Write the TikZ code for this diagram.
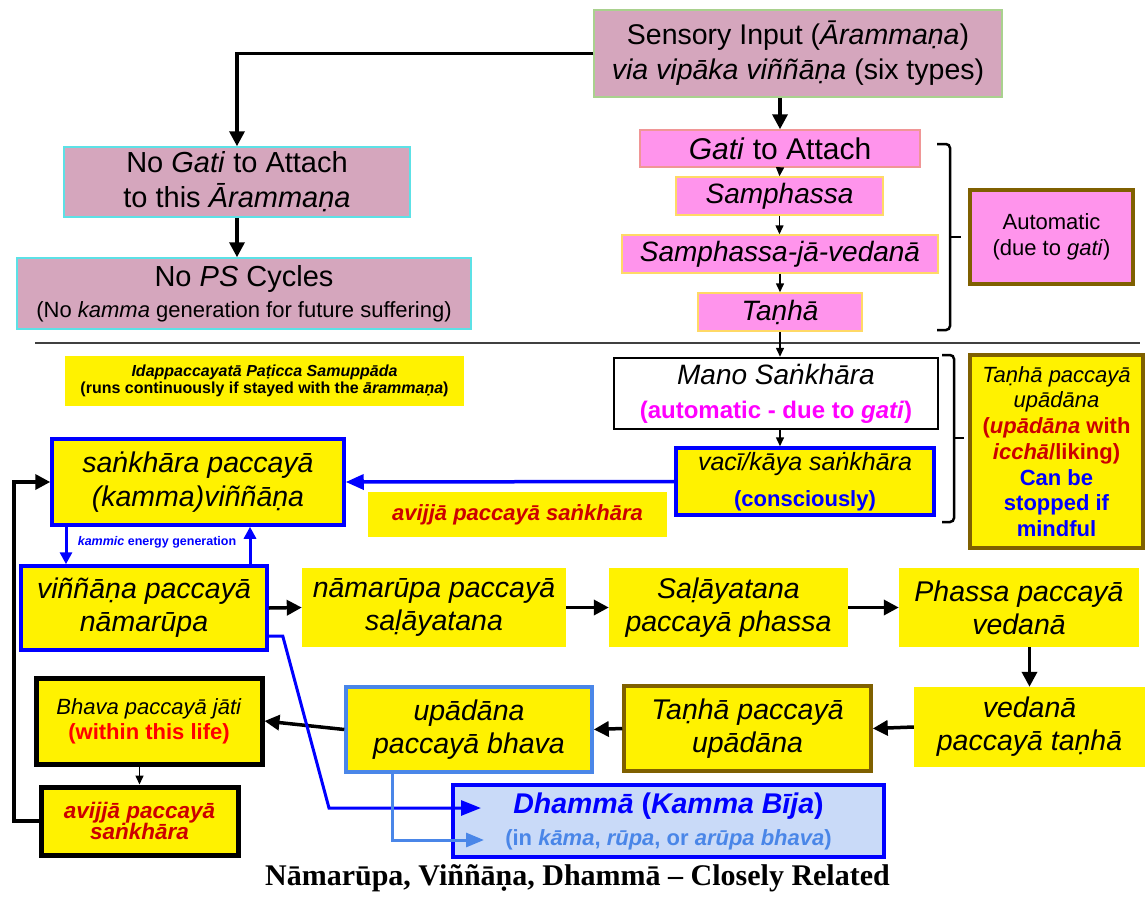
\documentclass[tikz,border=0pt]{standalone}
\usepackage{fontspec}
\setmainfont{Liberation Sans}
\newfontfamily\capfont{Liberation Serif}
\usepackage{tikz}
\usetikzlibrary{arrows.meta, positioning, calc}
\usepackage{xcolor}
\definecolor{mauve}{RGB}{213,166,189}
\definecolor{leafgreen}{RGB}{169,209,142}
\definecolor{aqua}{RGB}{92,225,230}
\definecolor{pinkfill}{RGB}{255,148,236}
\definecolor{salmon}{RGB}{240,150,150}
\definecolor{paleorange}{RGB}{255,217,102}
\definecolor{brownish}{RGB}{127,96,0}
\definecolor{skyblue}{RGB}{74,134,232}
\definecolor{paleblue}{RGB}{201,218,248}
\definecolor{darkred}{RGB}{204,0,0}
\definecolor{pureblue}{RGB}{0,0,255}
\definecolor{hotpink}{RGB}{255,0,255}
\newcommand{\fsz}[2]{\fontsize{#1}{#2}\selectfont}

\begin{document}
\begin{tikzpicture}[x=1pt, y=-1pt,
    every node/.style={align=center, inner sep=0pt},
    mauvebox/.style={fill=mauve, line width=1.5pt},
    pinkbox/.style={fill=pinkfill, line width=1.5pt},
    ybox/.style={fill=yellow},
    bluebox/.style={fill=yellow, draw=pureblue, line width=3.5pt},
    paliline/.style={font=\itshape\fsz{28.5}{33}},
    arr/.style={line width=3.5pt, -{Triangle[length=15pt,width=15pt]}},
    thinarr/.style={line width=1.5pt, -{Triangle[length=9pt,width=8pt]}},
    bluearr/.style={pureblue, line width=3.5pt, -{Triangle[length=18pt,width=15pt]}},
    brc/.style={line width=2.5pt, rounded corners=4pt}]
  \useasboundingbox[fill=white] (0,0) rectangle (1146,897);

  \node[mauvebox, draw=leafgreen, minimum width=408pt, minimum height=87pt, font=\fsz{28.5}{35}] (sense) at (798,53.5)
    {Sensory Input (\textit{Ārammaṇa})\\\textit{via vipāka viññāṇa} (six types)};
  \node[mauvebox, draw=aqua, minimum width=346pt, minimum height=70pt, font=\fsz{29}{35}] (nogati) at (237,182)
    {No \textit{Gati} to Attach\\to this \textit{Ārammaṇa}};
  \node[mauvebox, draw=aqua, minimum width=454pt, minimum height=71pt, font=\fsz{22}{31}] (nops) at (244,293.5)
    {{\fsz{29}{31}No \textit{PS} Cycles}\\(No \textit{kamma} generation for future suffering)};

  \node[pinkbox, draw=salmon, minimum width=280pt, minimum height=37pt, font=\fsz{30}{34}] (gati) at (780,148.5) {\textit{Gati} to Attach};
  \node[pinkbox, draw=paleorange, minimum width=207pt, minimum height=38pt, font=\itshape\fsz{28}{32}] (samph) at (779.5,196) {Samphassa};
  \node[pinkbox, draw=paleorange, minimum width=316pt, minimum height=38pt, font=\itshape\fsz{28}{32}] (sjv) at (780,254) {Samphassa-jā-vedanā};
  \node[pinkbox, draw=paleorange, minimum width=164pt, minimum height=38pt, font=\itshape\fsz{28}{32}] (tanha) at (780,312) {Taṇhā};
  \node[fill=pinkfill, draw=brownish, line width=4pt, minimum width=163pt, minimum height=94pt, font=\fsz{22}{26}] (auto) at (1051.5,237)
    {Automatic\\(due to \textit{gati})};
  \draw[brc] (937,144) -- (950,144) -- (950,330) -- (937,330);
  \draw[line width=2.5pt] (950,237) -- (961,237);

  \draw[line width=1.5pt, black!75] (35,343) -- (1140,343);

  \node[fill=white, draw=black, line width=2.5pt, minimum width=324pt, minimum height=71pt, font=\fsz{28}{34}] (mano) at (776,393.5)
    {\textit{Mano Saṅkhāra}\\{\bfseries\color{hotpink}\fsz{24}{34}(automatic - due to \textit{gati})}};
  \node[bluebox, minimum width=258pt, minimum height=67pt, font=\fsz{25}{36}] (vaci) at (805,481.5)
    {\textit{vacī/kāya saṅkhāra}\\{\bfseries\color{pureblue}\fsz{22}{36}(consciously)}};
  \draw[brc] (942,355) -- (954,355) -- (954,522) -- (942,522);
  \draw[line width=2.5pt] (954,438) -- (964,438);
  \node[fill=yellow, draw=brownish, line width=3.5pt, minimum width=173pt, minimum height=193pt, font=\fsz{22}{25.7}] (tpu) at (1056.5,451.5)
    {\textit{Taṇhā paccayā}\\\textit{upādāna}\\{\bfseries\color{darkred}(\textit{upādāna} with}\\{\bfseries\color{darkred}\textit{icchā}/liking)}\\
     {\bfseries\color{pureblue}Can be}\\{\bfseries\color{pureblue}stopped if}\\{\bfseries\color{pureblue}mindful}};

  \node[ybox, minimum width=399pt, minimum height=50pt, font=\bfseries\fsz{16}{17}] (idapp) at (264.5,381)
    {\textit{Idappaccayatā Paṭicca Samuppāda}\\(runs continuously if stayed with the \textit{ārammaṇa})};
  \node[bluebox, minimum width=292pt, minimum height=86pt, font=\itshape\fsz{28.5}{34}] (sanvin) at (198,482)
    {saṅkhāra paccayā\\(kamma)viññāṇa};
  \node[ybox, minimum width=299pt, minimum height=45pt, font=\bfseries\itshape\fsz{22}{26}, text=darkred] (avijlab) at (517.5,514.5)
    {avijjā paccayā saṅkhāra};
  \node[font=\bfseries\fsz{12.5}{14}, text=pureblue] (kamlab) at (157,542) {\textit{kammic} energy generation};

  \node[bluebox, minimum width=246pt, minimum height=84pt, paliline] (vinnam) at (144,608) {viññāṇa paccayā\\nāmarūpa};
  \node[ybox, minimum width=264pt, minimum height=79pt, paliline] (namsal) at (434,607.5) {nāmarūpa paccayā\\saḷāyatana};
  \node[ybox, minimum width=239pt, minimum height=79pt, paliline] (salphas) at (728.5,607.5) {Saḷāyatana\\paccayā phassa};
  \node[ybox, minimum width=240pt, minimum height=79pt, paliline] (phasved) at (1019,607.5) {Phassa paccayā\\vedanā};
  \node[ybox, minimum width=231pt, minimum height=80pt, paliline] (vedtan) at (1029.5,727) {vedanā\\paccayā taṇhā};
  \node[fill=yellow, draw=brownish, line width=3.5pt, minimum width=247pt, minimum height=85pt, paliline] (tanupa) at (747.5,728.5)
    {Taṇhā paccayā\\upādāna};
  \node[fill=yellow, draw=skyblue, line width=3.5pt, minimum width=246pt, minimum height=85pt, paliline] (upabha) at (469,729.5)
    {upādāna\\paccayā bhava};
  \node[fill=yellow, draw=black, line width=5pt, minimum width=226pt, minimum height=86pt, font=\fsz{22}{25}] (bhajat) at (149,721)
    {\textit{Bhava paccayā jāti}\\{\bfseries\color{red}(within this life)}};
  \node[fill=yellow, draw=black, line width=5pt, minimum width=197pt, minimum height=68pt, font=\bfseries\itshape\fsz{22.5}{21}, text=darkred] (avijbox) at (139.5,821)
    {avijjā paccayā\\saṅkhāra};
  \node[fill=paleblue, draw=pureblue, line width=4pt, minimum width=431pt, minimum height=72pt, font=\bfseries\fsz{28.5}{32}] (dhamma) at (668.5,821)
    {{\color{pureblue}\textit{Dhammā} (\textit{Kamma Bīja})}\\{\color{skyblue}\fsz{22}{32}(in \textit{kāma}, \textit{rūpa}, or \textit{arūpa bhava})}};
  \node[font=\capfont\bfseries\fsz{30}{32}] (caption) at (577.5,878) {Nāmarūpa, Viññāṇa, Dhammā – Closely Related};

  \coordinate (leftrail) at (14,482);

  \draw[arr] (sense.west) -| (nogati.north);
  \draw[arr] (sense.south -| gati.north) -- (gati.north);
  \draw[arr] (nogati.south) -- (nogati.south |- nops.north);
  \draw[thinarr] (gati.south) -- (samph.north);
  \draw[thinarr] (samph.south) -- (samph.south |- sjv.north);
  \draw[thinarr] (sjv.south) -- (tanha.north);
  \draw[thinarr] (tanha.south) -- (tanha.south |- mano.north);
  \draw[thinarr] (mano.south -| gati.south) -- (vaci.north -| gati.south);
  \draw[bluearr] (vaci.west) -- (sanvin.east);
  \draw[pureblue, line width=3pt, -{Triangle[length=12pt,width=12pt]}] ([xshift=-132pt]sanvin.south) -- ([xshift=-132pt]sanvin.south |- vinnam.north);
  \draw[pureblue, line width=3pt, -{Triangle[length=12pt,width=12pt]}] ([xshift=106pt]vinnam.north) -- ([xshift=106pt]vinnam.north |- sanvin.south);
  \draw[arr] (vinnam.east) -- (namsal.west);
  \draw[arr] (namsal.east) -- (salphas.west);
  \draw[arr] (salphas.east) -- (phasved.west);
  \draw[arr] (phasved.south -| vedtan.north) -- (vedtan.north);
  \draw[arr] (vedtan.west) -- (tanupa.east);
  \draw[arr] (tanupa.west) -- (upabha.east);
  \draw[arr] (upabha.west) -- (bhajat.east);
  \draw[thinarr] (avijbox.north |- bhajat.south) -- (avijbox.north);
  \draw[arr] (avijbox.west) -- (avijbox.west -| leftrail) -- (leftrail) -- (sanvin.west);
  \draw[pureblue, line width=3pt, -{Triangle[length=20pt,width=15pt]}] ([yshift=-28pt]vinnam.east) -- ++(14,0)
    -- ([xshift=-122pt,yshift=13pt]dhamma.west) -- ([xshift=30pt,yshift=13pt]dhamma.west);
  \draw[skyblue, line width=3pt, -{Triangle[length=18pt,width=14pt]}] ([xshift=-77pt]upabha.south) |- ([xshift=33pt,yshift=-19pt]dhamma.west);
\end{tikzpicture}
\end{document}
